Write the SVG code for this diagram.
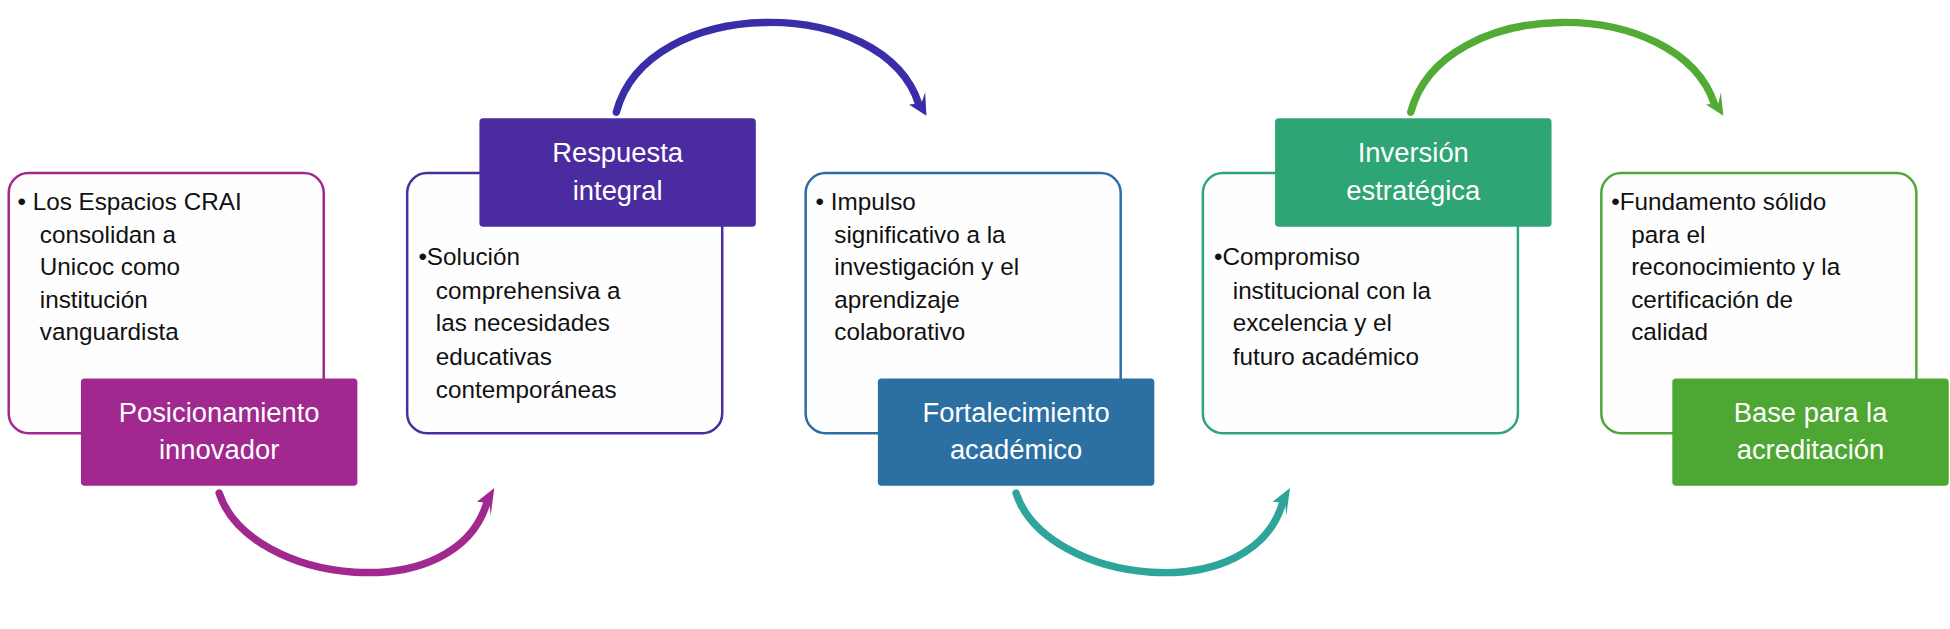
<svg xmlns="http://www.w3.org/2000/svg" width="1950" height="629" viewBox="0 0 1950 629">
<style>
.box{fill:#fefefe;stroke-width:2}
.t{font-family:"Liberation Sans",Arial,sans-serif;font-size:19.5px;fill:#111}
.h{font-family:"Liberation Sans",Arial,sans-serif;font-size:22px;fill:#fff;text-anchor:middle}
.arc{fill:none;stroke-width:6;stroke-linecap:round}
</style>
<rect width="1950" height="629" fill="#fff"/>
<g transform="scale(1.2452)">
<g id="connectors">
<path class="arc" stroke="#A0288F" d="M176,396 C200,470 370,490 392,400"/>
<polygon fill="#A0288F" points="397,392 383,403 393,404 394,414"/>
<path class="arc" stroke="#3A2DA8" d="M495,90 C520,-5 710,-5 738,84"/>
<polygon fill="#3A2DA8" points="744,93 730,84 740,83 743,74"/>
<path class="arc" stroke="#2EA59A" d="M816,396 C840,470 1010,490 1031,400"/>
<polygon fill="#2EA59A" points="1036,392 1022,403 1032,404 1033,414"/>
<path class="arc" stroke="#52AB35" d="M1133,90 C1158,-5 1348,-5 1377,84"/>
<polygon fill="#52AB35" points="1384,93 1370,84 1380,83 1382,74"/>
</g>
<g id="n1">
<rect class="box" x="7" y="139" width="253" height="209" rx="16" stroke="#A0288F"/>
<rect x="65" y="304" width="222" height="86" rx="3" fill="#A0288F"/>
<text class="h" x="176" y="339">Posicionamiento</text><text class="h" x="176" y="369">innovador</text>
<text class="t" x="14" y="169">•  Los Espacios CRAI</text>
<text class="t" x="32" y="195">consolidan a</text>
<text class="t" x="32" y="221">Unicoc como</text>
<text class="t" x="32" y="247">institución</text>
<text class="t" x="32" y="273">vanguardista</text>
</g>
<g id="n2">
<rect class="box" x="327" y="139" width="253" height="209" rx="16" stroke="#4B2CA0"/>
<rect x="385" y="95" width="222" height="87" rx="3" fill="#4B2CA0"/>
<text class="h" x="496" y="130">Respuesta</text><text class="h" x="496" y="161">integral</text>
<text class="t" x="336" y="213">•Solución</text>
<text class="t" x="350" y="240">comprehensiva a</text>
<text class="t" x="350" y="266">las necesidades</text>
<text class="t" x="350" y="293">educativas</text>
<text class="t" x="350" y="320">contemporáneas</text>
</g>
<g id="n3">
<rect class="box" x="647" y="139" width="253" height="209" rx="16" stroke="#2E6DA4"/>
<rect x="705" y="304" width="222" height="86" rx="3" fill="#2B6FA3"/>
<text class="h" x="816" y="339">Fortalecimiento</text><text class="h" x="816" y="369">académico</text>
<text class="t" x="655" y="169">•  Impulso</text>
<text class="t" x="670" y="195">significativo a la</text>
<text class="t" x="670" y="221">investigación y el</text>
<text class="t" x="670" y="247">aprendizaje</text>
<text class="t" x="670" y="273">colaborativo</text>
</g>
<g id="n4">
<rect class="box" x="966" y="139" width="253" height="209" rx="16" stroke="#2EA57A"/>
<rect x="1024" y="95" width="222" height="87" rx="3" fill="#2EA574"/>
<text class="h" x="1135" y="130">Inversión</text><text class="h" x="1135" y="161">estratégica</text>
<text class="t" x="975" y="213">•Compromiso</text>
<text class="t" x="990" y="240">institucional con la</text>
<text class="t" x="990" y="266">excelencia y el</text>
<text class="t" x="990" y="293">futuro académico</text>
</g>
<g id="n5">
<rect class="box" x="1286" y="139" width="253" height="209" rx="16" stroke="#4FA73A"/>
<rect x="1343" y="304" width="222" height="86" rx="3" fill="#4EA733"/>
<text class="h" x="1454" y="339">Base para la</text><text class="h" x="1454" y="369">acreditación</text>
<text class="t" x="1294" y="169">•Fundamento sólido</text>
<text class="t" x="1310" y="195">para el</text>
<text class="t" x="1310" y="221">reconocimiento y la</text>
<text class="t" x="1310" y="247">certificación de</text>
<text class="t" x="1310" y="273">calidad</text>
</g>
</g>
</svg>
